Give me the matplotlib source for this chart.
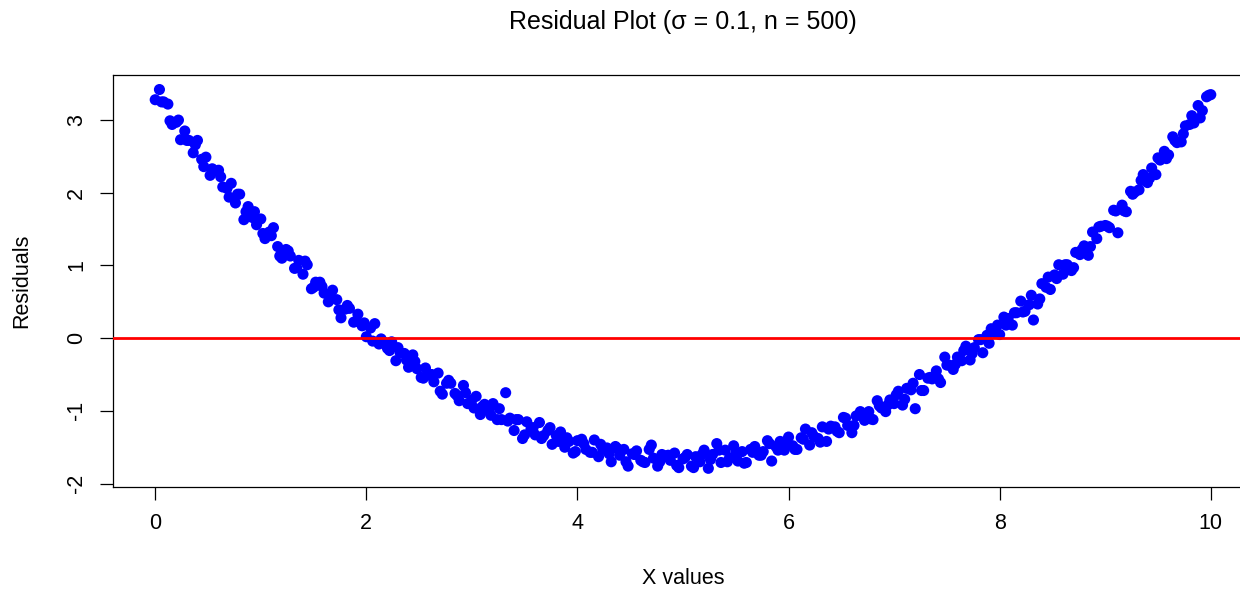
import matplotlib
matplotlib.use("Agg")
import matplotlib.pyplot as plt

plt.rcParams['font.family'] = ['Liberation Sans', 'DejaVu Sans']

# x values / residuals (left half, right half, in-between points)
x_left = [0.00, 0.04, 0.08, 0.12, 0.16, 0.20, 0.24, 0.28, 0.32, 0.36,
          0.40, 0.44, 0.48, 0.52, 0.56, 0.60, 0.64, 0.68, 0.72, 0.76,
          0.80, 0.84, 0.88, 0.92, 0.96, 1.00, 1.04, 1.08, 1.12, 1.16,
          1.20, 1.24, 1.28, 1.32, 1.36, 1.40, 1.44, 1.48, 1.52, 1.56,
          1.60, 1.64, 1.68, 1.72, 1.76, 1.80, 1.84, 1.88, 1.92, 1.96,
          2.00, 2.04, 2.08, 2.12, 2.16, 2.20, 2.24, 2.28, 2.32, 2.36,
          2.40, 2.44, 2.48, 2.52, 2.56, 2.60, 2.64, 2.68, 2.72, 2.76,
          2.80, 2.84, 2.88, 2.92, 2.96, 3.00, 3.04, 3.08, 3.12, 3.16,
          3.20, 3.24, 3.28, 3.32, 3.36, 3.40, 3.44, 3.48, 3.52, 3.56,
          3.60, 3.64, 3.68, 3.72, 3.76, 3.80, 3.84, 3.88, 3.92, 3.96,
          4.00, 4.04, 4.08, 4.12, 4.16, 4.20, 4.24, 4.28, 4.32, 4.36,
          4.40, 4.44, 4.48, 4.52, 4.56, 4.60, 4.64, 4.68, 4.72, 4.76,
          4.80, 4.84, 4.88, 4.92, 4.96, 5.00]
res_left = [3.28, 3.42, 3.25, 3.22, 2.94, 2.97, 2.73, 2.85, 2.72, 2.55,
            2.72, 2.46, 2.49, 2.24, 2.30, 2.31, 2.08, 2.06, 2.13, 1.86,
            1.98, 1.63, 1.81, 1.66, 1.56, 1.64, 1.37, 1.46, 1.52, 1.26,
            1.10, 1.22, 1.13, 0.96, 1.07, 0.88, 1.01, 0.68, 0.77, 0.77,
            0.62, 0.50, 0.66, 0.53, 0.28, 0.40, 0.41, 0.22, 0.33, 0.17,
            0.02, 0.14, 0.20, -0.08, -0.05, -0.14, -0.05, -0.31, -0.20, -0.21,
            -0.40, -0.23, -0.42, -0.54, -0.41, -0.51, -0.60, -0.48, -0.77, -0.62,
            -0.62, -0.76, -0.86, -0.65, -0.90, -0.85, -0.80, -1.05, -0.91, -1.00,
            -0.90, -1.12, -1.12, -0.75, -1.10, -1.27, -1.12, -1.38, -1.15, -1.25,
            -1.33, -1.16, -1.34, -1.27, -1.46, -1.34, -1.29, -1.50, -1.42, -1.58,
            -1.41, -1.39, -1.53, -1.57, -1.40, -1.63, -1.53, -1.51, -1.70, -1.49,
            -1.61, -1.53, -1.76, -1.59, -1.55, -1.68, -1.71, -1.53, -1.65, -1.76,
            -1.60, -1.62, -1.68, -1.58, -1.78, -1.66]

x_right = [5.04, 5.08, 5.12, 5.16, 5.20, 5.24, 5.28, 5.32, 5.36, 5.40,
           5.44, 5.48, 5.52, 5.56, 5.60, 5.64, 5.68, 5.72, 5.76, 5.80,
           5.84, 5.88, 5.92, 5.96, 6.00, 6.04, 6.08, 6.12, 6.16, 6.20,
           6.24, 6.28, 6.32, 6.36, 6.40, 6.44, 6.48, 6.52, 6.56, 6.60,
           6.64, 6.68, 6.72, 6.76, 6.80, 6.84, 6.88, 6.92, 6.96, 7.00,
           7.04, 7.08, 7.12, 7.16, 7.20, 7.24, 7.28, 7.32, 7.36, 7.40,
           7.44, 7.48, 7.52, 7.56, 7.60, 7.64, 7.68, 7.72, 7.76, 7.80,
           7.84, 7.88, 7.92, 7.96, 8.00, 8.04, 8.08, 8.12, 8.16, 8.20,
           8.24, 8.28, 8.32, 8.36, 8.40, 8.44, 8.48, 8.52, 8.56, 8.60,
           8.64, 8.68, 8.72, 8.76, 8.80, 8.84, 8.88, 8.92, 8.96, 9.00,
           9.04, 9.08, 9.12, 9.16, 9.20, 9.24, 9.28, 9.32, 9.36, 9.40,
           9.44, 9.48, 9.52, 9.56, 9.60, 9.64, 9.68, 9.72, 9.76, 9.80,
           9.84, 9.88, 9.92, 9.96, 10.00]
res_right = [-1.60, -1.76, -1.63, -1.70, -1.54, -1.79, -1.60, -1.45, -1.71, -1.54,
             -1.65, -1.48, -1.69, -1.56, -1.71, -1.53, -1.49, -1.61, -1.56, -1.41,
             -1.69, -1.49, -1.42, -1.54, -1.36, -1.48, -1.53, -1.37, -1.25, -1.47,
             -1.35, -1.38, -1.22, -1.42, -1.21, -1.22, -1.30, -1.09, -1.20, -1.30,
             -1.07, -1.01, -1.13, -1.01, -1.12, -0.86, -0.96, -1.01, -0.85, -0.90,
             -0.73, -0.92, -0.69, -0.71, -0.97, -0.50, -0.72, -0.55, -0.56, -0.45,
             -0.61, -0.26, -0.37, -0.43, -0.26, -0.31, -0.11, -0.30, -0.13, -0.02,
             -0.20, 0.04, 0.13, 0.07, 0.05, 0.29, 0.27, 0.18, 0.35, 0.51,
             0.37, 0.46, 0.25, 0.47, 0.75, 0.70, 0.67, 0.87, 1.01, 0.88,
             1.01, 0.93, 1.18, 1.15, 1.27, 1.14, 1.46, 1.37, 1.54, 1.55,
             1.52, 1.76, 1.45, 1.83, 1.74, 2.02, 2.01, 2.04, 2.25, 2.14,
             2.34, 2.25, 2.45, 2.57, 2.52, 2.77, 2.69, 2.70, 2.92, 2.94,
             2.96, 3.20, 3.13, 3.32, 3.35]

x_mid = [0.06, 0.14, 0.22, 0.30, 0.38, 0.46, 0.54, 0.62, 0.70, 0.78,
         0.86, 0.94, 1.02, 1.10, 1.18, 1.26, 1.34, 1.42, 1.50, 1.58,
         1.66, 1.74, 1.82, 1.90, 1.98, 2.06, 2.14, 2.22, 2.30, 2.38,
         2.46, 2.54, 2.62, 2.70, 2.78, 2.86, 2.94, 3.02, 3.10, 3.18,
         3.26, 3.34, 3.42, 3.50, 3.58, 3.66, 3.74, 3.82, 3.90, 3.98,
         4.06, 4.14, 4.22, 4.30, 4.38, 4.46, 4.54, 4.62, 4.70, 4.78,
         4.86, 4.94, 5.02, 5.10, 5.18, 5.26, 5.34, 5.42, 5.50, 5.58,
         5.66, 5.74, 5.82, 5.90, 5.98, 6.06, 6.14, 6.22, 6.30, 6.38,
         6.46, 6.54, 6.62, 6.70, 6.78, 6.86, 6.94, 7.02, 7.10, 7.18,
         7.26, 7.34, 7.42, 7.50, 7.58, 7.66, 7.74, 7.82, 7.90, 7.98,
         8.06, 8.14, 8.22, 8.30, 8.38, 8.46, 8.54, 8.62, 8.70, 8.78,
         8.86, 8.94, 9.02, 9.10, 9.18, 9.26, 9.34, 9.42, 9.50, 9.58,
         9.66, 9.74, 9.82, 9.90, 9.98]
res_mid = [3.25, 2.99, 3.00, 2.72, 2.66, 2.36, 2.33, 2.22, 1.94, 1.98,
           1.74, 1.74, 1.44, 1.41, 1.13, 1.20, 0.97, 1.06, 0.70, 0.71,
           0.57, 0.39, 0.45, 0.23, 0.21, -0.04, -0.01, -0.17, -0.13, -0.30,
           -0.32, -0.55, -0.50, -0.73, -0.58, -0.79, -0.75, -0.96, -0.94, -1.06,
           -0.97, -1.14, -1.12, -1.33, -1.23, -1.38, -1.23, -1.42, -1.37, -1.56,
           -1.45, -1.57, -1.46, -1.59, -1.52, -1.70, -1.60, -1.70, -1.47, -1.70,
           -1.61, -1.75, -1.64, -1.78, -1.60, -1.67, -1.54, -1.70, -1.58, -1.72,
           -1.57, -1.61, -1.45, -1.54, -1.42, -1.53, -1.39, -1.30, -1.43, -1.25,
           -1.28, -1.10, -1.20, -1.07, -1.11, -0.93, -0.92, -0.78, -0.84, -0.62,
           -0.72, -0.54, -0.56, -0.37, -0.36, -0.17, -0.21, -0.02, -0.07, 0.18,
           0.18, 0.35, 0.36, 0.59, 0.54, 0.84, 0.82, 1.01, 0.97, 1.22,
           1.26, 1.53, 1.54, 1.75, 1.75, 1.98, 2.17, 2.20, 2.48, 2.47,
           2.72, 2.81, 3.06, 3.03, 3.34]

x_vals = x_left + x_right + x_mid
residuals = res_left + res_right + res_mid

xticks = [0, 2, 4, 6, 8, 10]
yticks = [-2, -1, 0, 1, 2, 3]

fig = plt.figure(figsize=(12.4, 5.89), dpi=100)
# plot region runs slightly past the right edge, as in the reference
ax = fig.add_axes([113 / 1240, 102 / 589, 1140 / 1240, 412 / 589])

ax.scatter(x_vals, residuals, s=64, color='#0000FF', edgecolors='none', zorder=2)
ax.axhline(0, color='#FF0000', linewidth=2, zorder=3)

ax.set_xlim(-0.4, 10.4)
ax.set_ylim(-2.047, 3.62)
ax.set_xticks(xticks)
ax.set_yticks(yticks)
ax.set_xticklabels([str(t) for t in xticks])
ax.set_yticklabels([str(t) for t in yticks], rotation=90, va='center')

for sp in ax.spines.values():
    sp.set_linewidth(0.9)
    sp.set_color('black')
ax.tick_params(length=9.5, width=0.9, labelsize=15.5, pad=9, colors='black')

fig.text(683 / 1240, 1 - 22 / 589, 'Residual Plot (\u03c3 = 0.1, n = 500)',
         ha='center', va='center', fontsize=18)
fig.text(683 / 1240, 1 - 578 / 589, 'X values', ha='center', va='center', fontsize=15.5)
fig.text(22 / 1240, 1 - 281 / 589, 'Residuals', ha='center', va='center',
         rotation=90, fontsize=15.5)

fig.savefig('out.png', dpi=100)
